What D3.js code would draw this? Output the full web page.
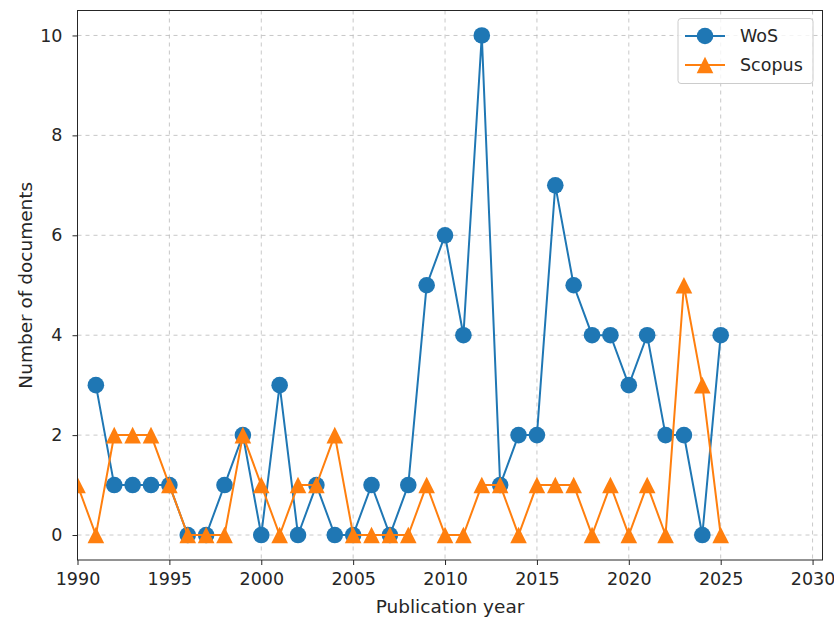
<!DOCTYPE html>
<html><head><meta charset="utf-8">
<script src="https://cdn.jsdelivr.net/npm/d3@7"></script>
<style>body{margin:0;background:#fff;} text{font-family:"DejaVu Sans",sans-serif;}</style>
</head><body>
<svg id="c" width="834" height="619"></svg>
<script>
const wosYears = d3.range(1991, 2026);
const wosValues = [3,1,1,1,1,0,0,1,2,0,3,0,1,0,0,1,0,1,5,6,4,10,1,2,2,7,5,4,4,3,4,2,2,0,4];
const scopusYears = d3.range(1990, 2026);
const scopusValues = [1,0,2,2,2,1,0,0,0,2,1,0,1,1,2,0,0,0,0,1,0,0,1,1,0,1,1,1,0,1,0,1,0,5,3,0];
const xTicks = [1990,1995,2000,2005,2010,2015,2020,2025,2030];
const yTicks = [0,2,4,6,8,10];
const seriesNames = ["WoS","Scopus"];
const colors = ["#1f77b4","#ff7f0e"];

const svg = d3.select("#c");
const L=77.5, R=822.5, T=10.5, B=560;
const FS = 17.5;
const x = d3.scaleLinear().domain([1990, 2030.54]).range([L, R]);
const y = d3.scaleLinear().domain([-0.5, 10.5]).range([B, T]);

// grid
const g = svg.append("g");
g.selectAll(".gx").data(xTicks).enter().append("line")
  .attr("x1", d=>x(d)).attr("x2", d=>x(d)).attr("y1", T).attr("y2", B)
  .attr("stroke", "#b0b0b0").attr("stroke-opacity", 0.7).attr("stroke-width", 1).attr("stroke-dasharray", "4,4");
g.selectAll(".gy").data(yTicks).enter().append("line")
  .attr("y1", d=>y(d)).attr("y2", d=>y(d)).attr("x1", L).attr("x2", R)
  .attr("stroke", "#b0b0b0").attr("stroke-opacity", 0.7).attr("stroke-width", 1).attr("stroke-dasharray", "4,4");

svg.append("clipPath").attr("id","clp").append("rect").attr("x",L).attr("y",T).attr("width",R-L).attr("height",B-T);
const plot = svg.append("g").attr("clip-path","url(#clp)");

const line = d3.line().x(d=>x(d[0])).y(d=>y(d[1]));
const wos = wosYears.map((yr,i)=>[yr, wosValues[i]]);
const sco = scopusYears.map((yr,i)=>[yr, scopusValues[i]]);

function tri(cx, cy, s){
  return `M${cx},${cy-s} L${cx+s},${cy+s} L${cx-s},${cy+s} Z`;
}

plot.append("path").datum(wos).attr("d", line).attr("fill","none").attr("stroke",colors[0]).attr("stroke-width",2);
plot.selectAll(".mw").data(wos).enter().append("circle")
  .attr("cx", d=>x(d[0])).attr("cy", d=>y(d[1])).attr("r", 8.3).attr("fill", colors[0]);

plot.append("path").datum(sco).attr("d", line).attr("fill","none").attr("stroke",colors[1]).attr("stroke-width",2);
plot.selectAll(".ms").data(sco).enter().append("path")
  .attr("d", d=>tri(x(d[0]), y(d[1]), 8.3)).attr("fill", colors[1]);

// axes
const xAxis = d3.axisBottom(x).tickValues(xTicks).tickFormat(d3.format("d")).tickSize(5).tickPadding(8);
const yAxis = d3.axisLeft(y).tickValues(yTicks).tickFormat(d3.format("d")).tickSize(5).tickPadding(10);
const xa = svg.append("g").attr("transform",`translate(0,${B})`).call(xAxis);
const ya = svg.append("g").attr("transform",`translate(${L},0)`).call(yAxis);
[xa,ya].forEach(a=>{
  a.select(".domain").remove();
  a.selectAll("text").attr("font-size", FS).attr("fill","#262626").attr("font-family","DejaVu Sans");
  a.selectAll("line").attr("stroke","#262626").attr("stroke-width",1);
});
svg.append("rect").attr("x",L).attr("y",T).attr("width",R-L).attr("height",B-T)
  .attr("fill","none").attr("stroke","#262626").attr("stroke-width",1);

svg.append("text").attr("x",(L+R)/2).attr("y",613).attr("text-anchor","middle").attr("font-size",18.5).attr("fill","#262626").text("Publication year");
svg.append("text").attr("transform",`translate(32,${(T+B)/2}) rotate(-90)`).attr("text-anchor","middle").attr("font-size",18.5).attr("fill","#262626").text("Number of documents");

// legend
const lg = svg.append("g");
lg.append("rect").attr("x",678).attr("y",18.5).attr("width",135).attr("height",65).attr("rx",3)
  .attr("fill","#fff").attr("fill-opacity",0.8).attr("stroke","#cccccc").attr("stroke-width",1);
const items = [{n:seriesNames[0],c:colors[0],m:"c"},{n:seriesNames[1],c:colors[1],m:"t"}];
items.forEach((it,i)=>{
  const yy = 36 + i*29;
  lg.append("line").attr("x1",685).attr("x2",725).attr("y1",yy).attr("y2",yy).attr("stroke",it.c).attr("stroke-width",2);
  if(it.m==="c") lg.append("circle").attr("cx",705).attr("cy",yy).attr("r",8.3).attr("fill",it.c);
  else lg.append("path").attr("d",tri(705,yy,8.3)).attr("fill",it.c);
  lg.append("text").attr("x",740).attr("y",yy+6).attr("font-size",FS).attr("fill","#262626").text(it.n);
});
</script>
</body></html>
